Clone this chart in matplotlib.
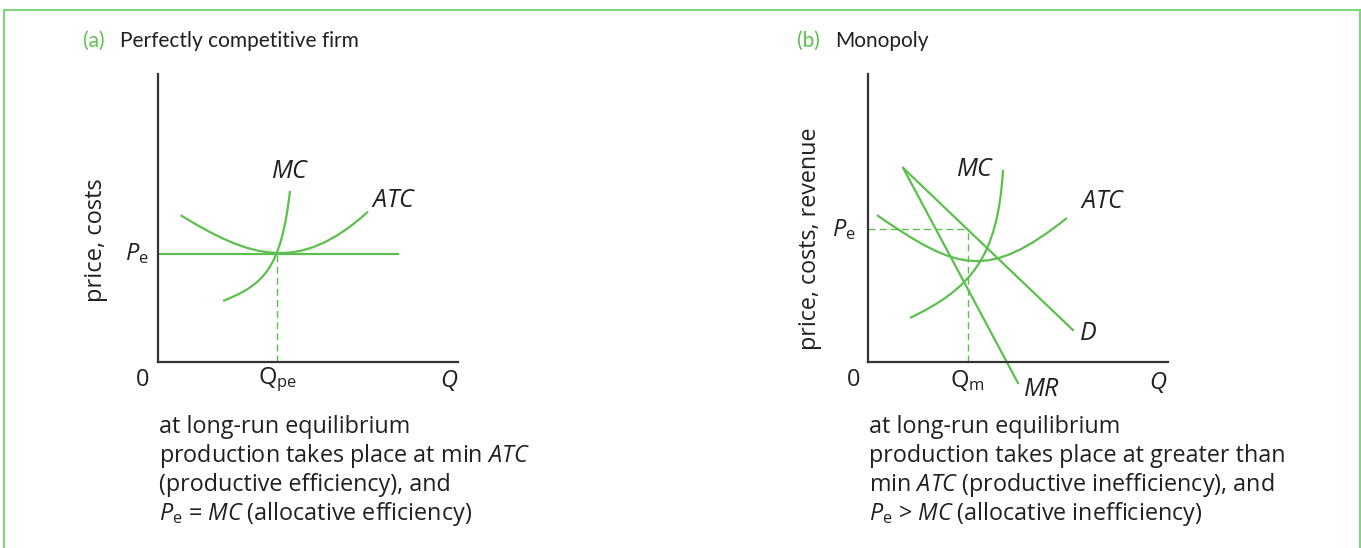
import matplotlib
matplotlib.use("Agg")
import matplotlib.pyplot as plt
from matplotlib.path import Path
from matplotlib.patches import PathPatch
from matplotlib.lines import Line2D

plt.rcParams['font.family'] = ['Open Sans', 'DejaVu Sans']
plt.rcParams['mathtext.fontset'] = 'custom'
plt.rcParams['mathtext.rm'] = 'Open Sans'
plt.rcParams['mathtext.it'] = 'Open Sans:italic'

GREEN = "#5cbf4e"
BORDER = "#7fd67a"
INK = "#231f20"
AXIS = "#333333"

# --- data (Q, P units 0..10) ---
# (a) perfectly competitive firm, cubic Bezier control points
atc_a_q = [0.75, 3.05, 4.7, 7.0]
atc_a_p = [5.1, 3.63, 3.035, 5.22]
mc_a_q = [2.17, 3.5, 4.1, 4.4]
mc_a_p = [2.12, 2.68, 3.2, 5.94]
pe_a = 3.75
qpe = 3.95
pe_a_end = 8.0

# (b) monopoly
atc_b_q = [0.3, 2.95, 3.98, 6.63]
atc_b_p = [5.1, 3.19, 2.80, 5.0]
mc_b_q = [1.4, 3.4, 4.33, 4.5]
mc_b_p = [1.53, 2.53, 3.6, 6.67]
d_q = [1.17, 6.83]
d_p = [6.74, 1.11]
mr_q = [1.17, 5.0]
mr_p = [6.74, -0.73]
pe_b = 4.62
qm = 3.33

text_a = ["at long-run equilibrium",
          r"production takes place at min $\mathit{ATC}$",
          "(productive efficiency), and",
          r"$P_{\mathrm{e}}$ = $\mathit{MC}$ (allocative efficiency)"]
text_b = ["at long-run equilibrium",
          "production takes place at greater than",
          r"min $\mathit{ATC}$ (productive inefficiency), and",
          r"$P_{\mathrm{e}}$ > $\mathit{MC}$ (allocative inefficiency)"]

W, H = 1361, 548
fig = plt.figure(figsize=(W / 100, H / 100), dpi=100)
fig.patch.set_facecolor("white")

# green frame
fig.add_artist(Line2D([4 / W, 4 / W], [0, 1 - 9.5 / H], color=BORDER, lw=1.5))
fig.add_artist(Line2D([4 / W, 1360 / W], [1 - 9.5 / H, 1 - 9.5 / H], color=BORDER, lw=1.5))
fig.add_artist(Line2D([1360 / W, 1360 / W], [0, 1 - 9.5 / H], color=BORDER, lw=1.5))


def make_axes(x0):
    ax = fig.add_axes([x0 / W, (H - 362) / H, 300 / W, 288 / H])
    ax.set_xlim(0, 10)
    ax.set_ylim(0, 10)
    for s in ("top", "right"):
        ax.spines[s].set_visible(False)
    for s in ("left", "bottom"):
        ax.spines[s].set_color(AXIS)
        ax.spines[s].set_linewidth(1.6)
    ax.set_xticks([])
    ax.set_yticks([])
    ax.patch.set_alpha(0)
    return ax


def curve(ax, qs, ps):
    verts = list(zip(qs, ps))
    codes = [Path.MOVETO] + [Path.CURVE4] * (len(verts) - 1)
    ax.add_patch(PathPatch(Path(verts, codes), fill=False, ec=GREEN, lw=1.6, clip_on=False))


def txt(ax, x, y, s, **kw):
    kw.setdefault("fontsize", 17)
    kw.setdefault("color", INK)
    kw.setdefault("ha", "center")
    kw.setdefault("va", "center")
    ax.text(x, y, s, clip_on=False, **kw)


TITLE_FONT = ["Lato", "Open Sans", "DejaVu Sans"]

# ---------- (a) ----------
ax = make_axes(158)
curve(ax, atc_a_q, atc_a_p)
curve(ax, mc_a_q, mc_a_p)
ax.plot([0, pe_a_end], [pe_a, pe_a], color=GREEN, lw=1.6)
ax.plot([qpe, qpe], [0, pe_a], color=GREEN, lw=1.0, ls=(0, (5, 3)))
txt(ax, 4.4, 6.6, r"$\mathit{MC}$", fontsize=18)
txt(ax, 7.85, 5.6, r"$\mathit{ATC}$", fontsize=18)
txt(ax, -0.72, 3.75, r"$P_{\mathrm{e}}$")
txt(ax, -0.5, -0.63, "0")
txt(ax, 3.97, -0.63, r"$\mathrm{Q}_{\mathrm{pe}}$")
txt(ax, 9.7, -0.63, r"$Q$")
ax.text(-2.05, 4.24, "price, costs", rotation=90, fontsize=17, color=INK,
        ha="center", va="center")

fig.text(83 / W, 1 - 47 / H, "(a)", color=GREEN, fontsize=15,
         family=TITLE_FONT, va="baseline")
fig.text(120 / W, 1 - 47 / H, "Perfectly competitive firm", color=INK, fontsize=15,
         family=TITLE_FONT, va="baseline")
for i, line in enumerate(text_a):
    fig.text(159 / W, 1 - (433 + 29 * i) / H, line, color=INK, fontsize=16.8, va="baseline")

# ---------- (b) ----------
ax = make_axes(868)
curve(ax, atc_b_q, atc_b_p)
curve(ax, mc_b_q, mc_b_p)
ax.plot(d_q, d_p, color=GREEN, lw=1.6)
ax.plot(mr_q, mr_p, color=GREEN, lw=1.6, clip_on=False)
ax.plot([0, qm], [pe_b, pe_b], color=GREEN, lw=1.0, ls=(0, (5, 3)))
ax.plot([qm, qm], [0, pe_b], color=GREEN, lw=1.0, ls=(0, (5, 3)))
txt(ax, 3.57, 6.67, r"$\mathit{MC}$", fontsize=18)
txt(ax, 7.83, 5.56, r"$\mathit{ATC}$", fontsize=18)
txt(ax, 7.33, 1.0, r"$\mathit{D}$", fontsize=18)
txt(ax, 5.8, -0.94, r"$\mathit{MR}$", fontsize=18)
txt(ax, -0.8, 4.6, r"$P_{\mathrm{e}}$")
txt(ax, -0.47, -0.63, "0")
txt(ax, 3.3, -0.63, r"$\mathrm{Q}_{\mathrm{m}}$")
txt(ax, 9.67, -0.7, r"$Q$")
ax.text(-1.93, 4.27, "price, costs, revenue", rotation=90, fontsize=16.8, color=INK,
        ha="center", va="center")

fig.text(797 / W, 1 - 47 / H, "(b)", color=GREEN, fontsize=15,
         family=TITLE_FONT, va="baseline")
fig.text(835 / W, 1 - 47 / H, "Monopoly", color=INK, fontsize=15,
         family=TITLE_FONT, va="baseline")
for i, line in enumerate(text_b):
    fig.text(869 / W, 1 - (433 + 29 * i) / H, line, color=INK, fontsize=16.8, va="baseline")

fig.savefig("out.png", dpi=100)
